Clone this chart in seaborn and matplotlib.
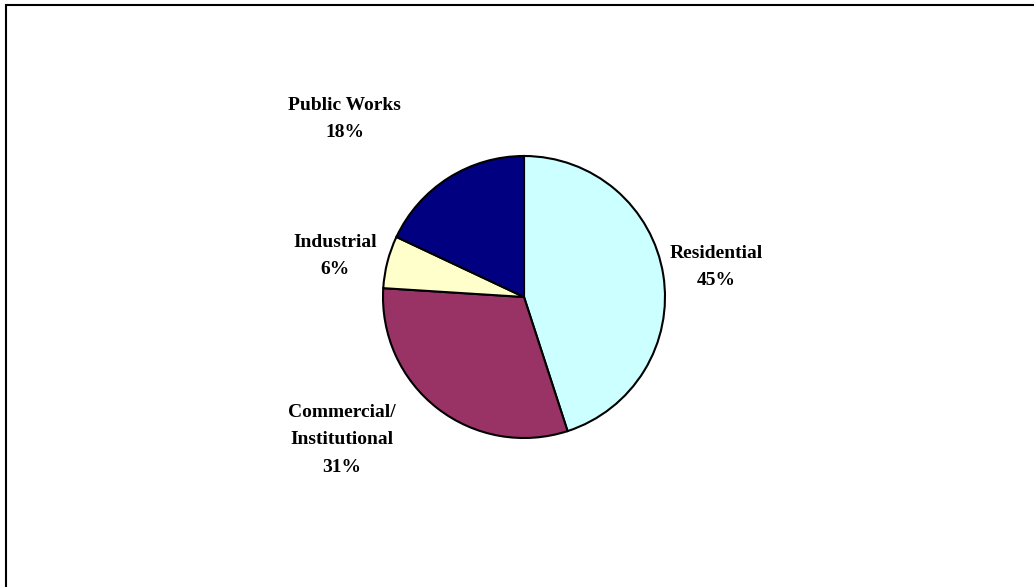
import matplotlib
matplotlib.use("Agg")
import matplotlib.pyplot as plt
import seaborn as sns
from matplotlib.patches import Rectangle

categories = ["Residential", "Commercial/\nInstitutional", "Industrial", "Public Works"]
values = [45, 31, 6, 18]
colors = ["#CCFFFF", "#993366", "#FFFFCC", "#000080"]
# label offsets (in pie-radius units) from pie centre
label_pos = [(1.362, 0.213), (-1.29, -1.014), (-1.34, 0.29), (-1.27, 1.265)]

sns.set_theme(style="white")
plt.rcParams["font.family"] = ["Liberation Serif", "DejaVu Serif"]

W, H = 1034, 587
fig = plt.figure(figsize=(W / 100, H / 100), dpi=100)
ax = fig.add_axes([0, 0, 1, 1])

R = 141.0
cx, cy = 524.0, 290.0  # centre from left / bottom in pixels
ax.pie(values, colors=colors, startangle=90, counterclock=False, radius=1,
       wedgeprops=dict(edgecolor="black", linewidth=1.5))
ax.set_xlim(-cx / R, (W - cx) / R)
ax.set_ylim(-cy / R, (H - cy) / R)
ax.set_aspect("equal")
ax.axis("off")

total = sum(values)
for cat, v, (lx, ly) in zip(categories, values, label_pos):
    ax.text(lx, ly, f"{cat}\n{round(100 * v / total)}%", ha="center", va="center",
            fontsize=14, fontweight="bold", linespacing=1.78, color="black")

fig.add_artist(Rectangle((6 / W, -0.1), 1.2, (H - 5) / H + 0.1, transform=fig.transFigure,
                         fill=False, edgecolor="black", linewidth=1.5))

fig.savefig("out.png", dpi=100, facecolor="white")
